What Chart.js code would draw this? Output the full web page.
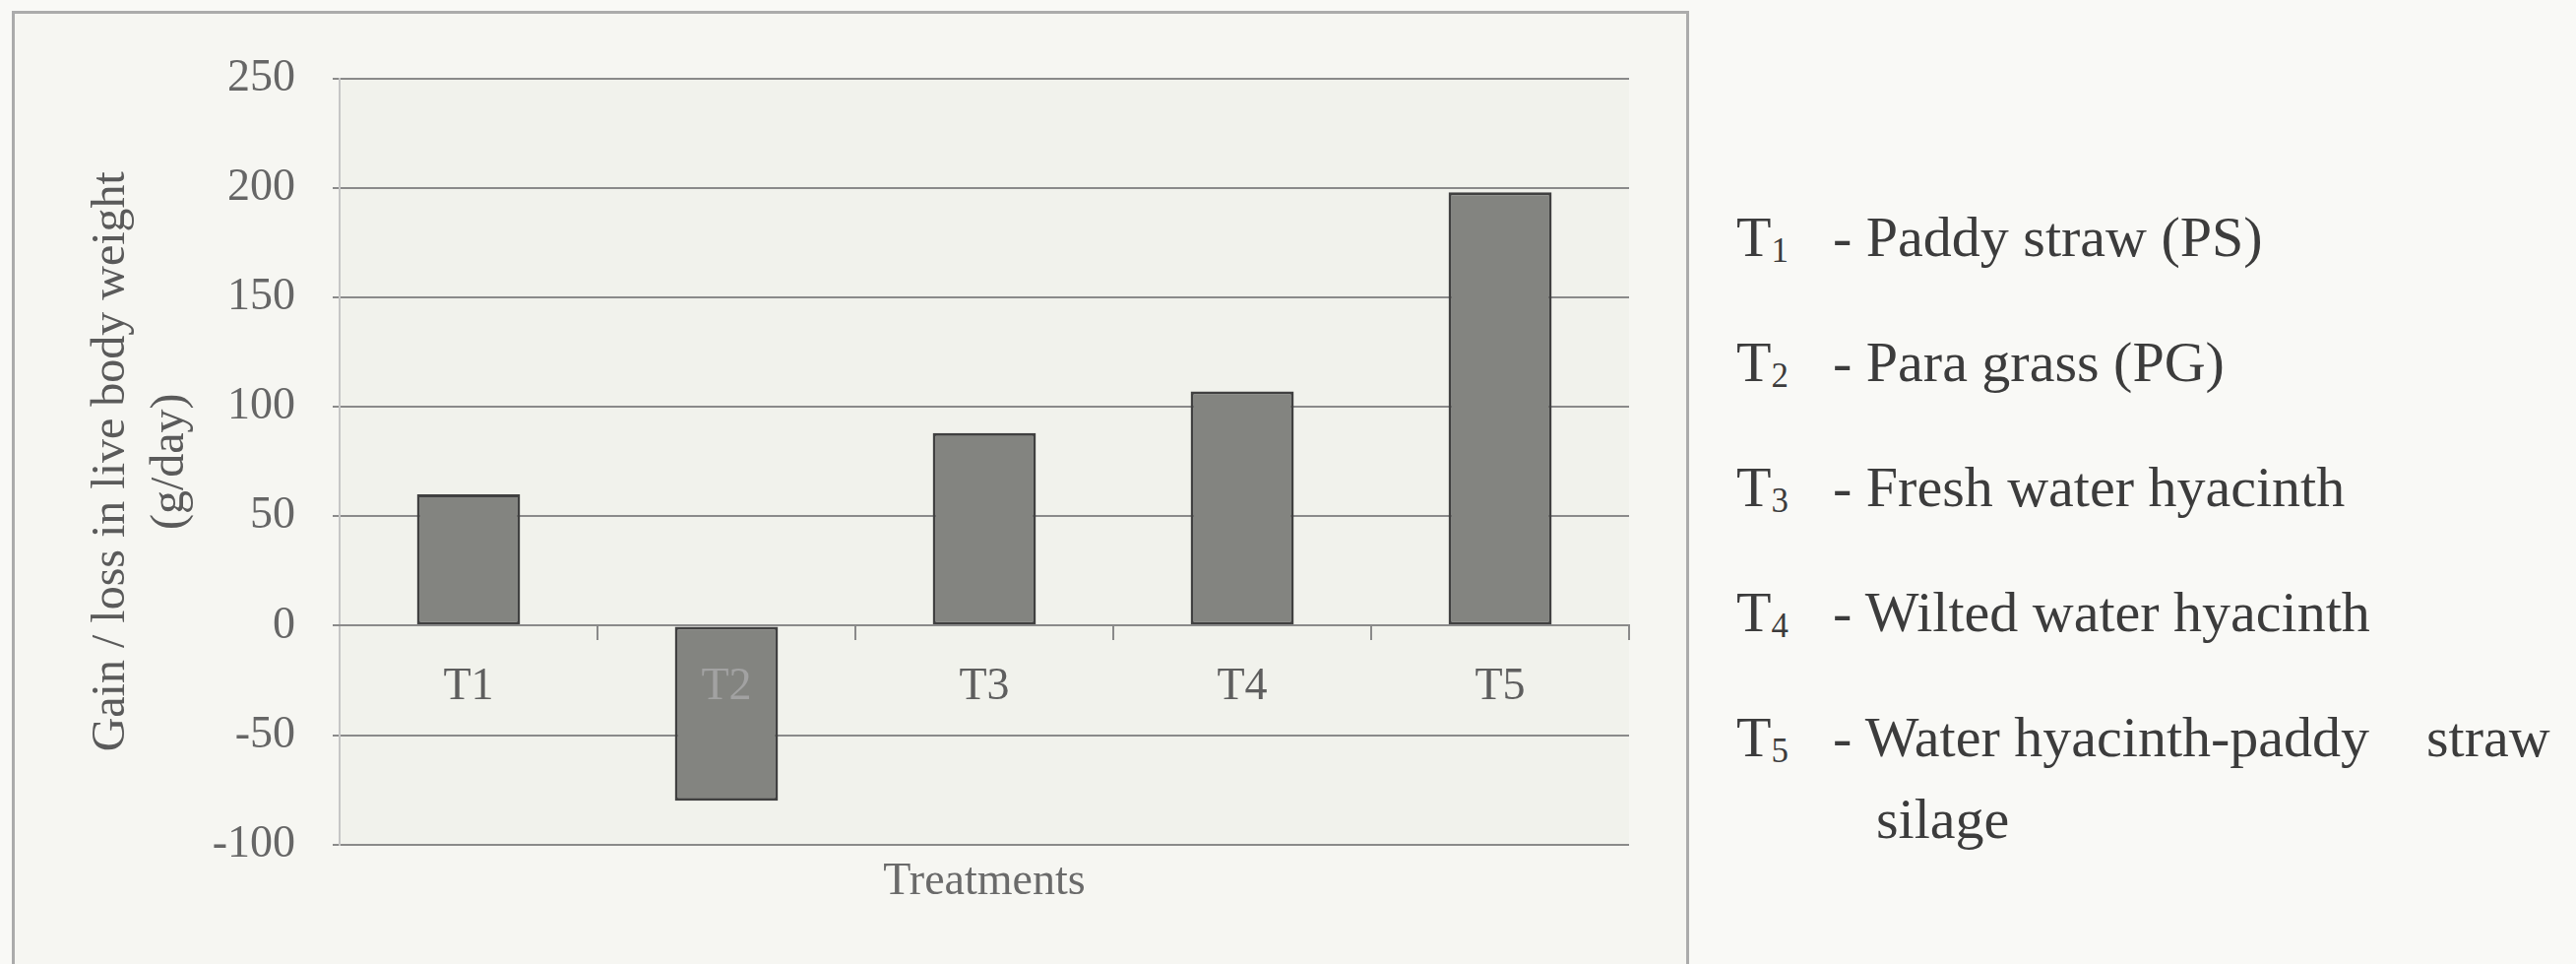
<!DOCTYPE html>
<html>
<head>
<meta charset="utf-8">
<title>Gain / loss in live body weight by treatment</title>
<script src="https://cdn.jsdelivr.net/npm/chart.js@4/dist/chart.umd.min.js"></script>
<style>
  html, body { margin: 0; padding: 0; }
  body {
    width: 2617px; height: 979px; overflow: hidden; position: relative;
    background: #f9f9f6;
    font-family: "Liberation Serif", "Times New Roman", serif;
  }
  #frame {
    position: absolute; left: 12px; top: 11px; width: 1698px; height: 1000px;
    border: 3px solid #ababab; border-bottom: none; background: #f6f6f2;
  }
  #plotBox { position: absolute; left: 15px; top: 14px; width: 1698px; height: 965px; }
  .key {
    position: absolute; left: 1764px; white-space: nowrap;
    font-size: 58px; line-height: 83px; color: #3c3c3c;
  }
  .key .code { display: inline-block; width: 98px; vertical-align: top; }
  .key .code sub { font-size: 60%; line-height: 0; vertical-align: -0.18em; }
  .key .desc { display: inline-block; white-space: normal; width: 770px; padding-left: 44px; text-indent: -44px; vertical-align: top; }
</style>
</head>
<body>
<div id="frame"></div>
<div id="plotBox"><canvas id="chart"></canvas></div>
<div id="key"></div>
<script>
// Treatments and daily gain / loss in live body weight (g/day)
const categories = ['T1', 'T2', 'T3', 'T4', 'T5'];
const gains = [60, -80, 88, 107, 198];
const yTickValues = [-100, -50, 0, 50, 100, 150, 200, 250];

// Key to the treatment codes
const treatmentNumbers = ['1', '2', '3', '4', '5'];
const treatmentNames = [
  'Paddy straw (PS)',
  'Para grass (PG)',
  'Fresh water hyacinth',
  'Wilted water hyacinth',
  'Water hyacinth-paddy\u00a0\u00a0\u00a0 straw silage'
];

const serif = '"Liberation Serif", "Times New Roman", serif';

// Tinted plot background
const plotBackground = {
  id: 'plotBackground',
  beforeDraw(chart) {
    const { ctx, chartArea: a } = chart;
    ctx.save();
    ctx.fillStyle = '#f1f2ec';
    ctx.fillRect(a.left, a.top, a.right - a.left, a.bottom - a.top);
    ctx.restore();
  }
};

new Chart(document.getElementById('chart'), {
  type: 'bar',
  data: {
    labels: categories,
    datasets: [{
      data: gains,
      backgroundColor: '#838480',
      borderColor: '#404040',
      borderWidth: 3,
      borderSkipped: false,
      barPercentage: 0.5,
      categoryPercentage: 0.8
    }]
  },
  options: {
    responsive: true,
    maintainAspectRatio: false,
    animation: false,
    layout: { padding: { left: 0, right: 58, top: 54, bottom: 0 } },
    plugins: {
      legend: { display: false },
      tooltip: { enabled: false },
      title: {
        display: true,
        text: 'Treatments',
        position: 'bottom',
        fullSize: false,
        color: '#6a6a6a',
        font: { family: serif, size: 46, weight: 'normal', lineHeight: 1.2 },
        padding: { top: 11, bottom: 55 }
      }
    },
    scales: {
      x: {
        type: 'category',
        position: { y: 0 },
        offset: true,
        grid: {
          display: true,
          offset: true,
          drawOnChartArea: false,
          drawTicks: true,
          tickLength: 14,
          color: '#8a8a8a',
          lineWidth: 2
        },
        border: { display: true, color: '#8a8a8a', width: 2, z: 1 },
        ticks: {
          z: 1,
          padding: 21,
          maxRotation: 0,
          color: (c) => (gains[c.index] < 0 ? '#a2a2a2' : '#5e5e5e'),
          font: { family: serif, size: 46, lineHeight: 1.2 }
        }
      },
      y: {
        type: 'linear',
        position: 'left',
        min: -100,
        max: 250,
        afterBuildTicks(scale) {
          scale.ticks = yTickValues.map((v) => ({ value: v }));
        },
        afterFit(scale) { scale.width = 330; },
        grid: {
          color: '#8a8a8a',
          lineWidth: 2,
          drawTicks: true,
          tickLength: 7
        },
        border: { display: true, color: '#c6c6c6', width: 2 },
        ticks: {
          padding: 38,
          color: '#666666',
          font: { family: serif, size: 46, lineHeight: 1.2 }
        },
        title: {
          display: true,
          text: ['Gain / loss in live body weight', '(g/day)'],
          color: '#5a5a5a',
          font: { family: serif, size: 48, lineHeight: 1.25 },
          padding: { top: 68, bottom: 0 }
        }
      }
    }
  },
  plugins: [plotBackground]
});

// Treatment key beside the chart
const key = document.getElementById('key');
treatmentNames.forEach((name, i) => {
  const row = document.createElement('div');
  row.className = 'key';
  row.style.top = (199 + 127 * i) + 'px';
  const code = document.createElement('span');
  code.className = 'code';
  code.innerHTML = 'T<sub>' + treatmentNumbers[i] + '</sub>';
  const desc = document.createElement('span');
  desc.className = 'desc';
  desc.textContent = '- ' + name;
  row.appendChild(code);
  row.appendChild(desc);
  key.appendChild(row);
});
</script>
</body>
</html>
